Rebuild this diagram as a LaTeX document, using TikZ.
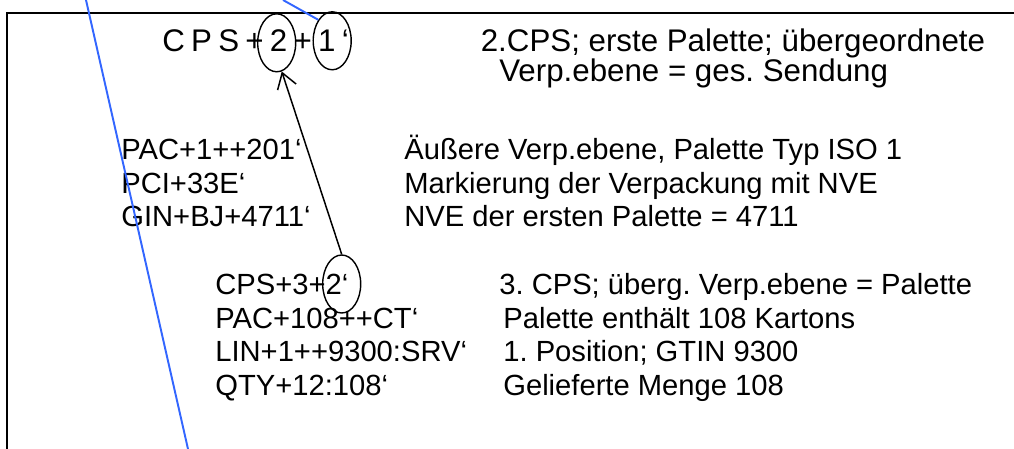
\documentclass[tikz,border=0pt]{standalone}
\usepackage{fontspec}
\setmainfont{Liberation Sans}
\usetikzlibrary{calc,shapes.geometric,arrows.meta}
\definecolor{guideblue}{RGB}{51,102,255}
\frenchspacing

\begin{document}
\begin{tikzpicture}[
		bigtext/.style={anchor=base west, inner sep=0pt, font=\fontsize{17.8}{20}\selectfont},
		seg/.style={anchor=base west, inner sep=0pt, font=\fontsize{16.6}{19}\selectfont},
		ring/.style={draw, ellipse, line width=0.8pt, inner sep=0pt, minimum width=0.76cm, minimum height=1.16cm},
		guide/.style={color=guideblue, line width=1.1pt}
	]
		\useasboundingbox (0,0) rectangle (20.28,8.98);

		% frame, open at the bottom and on the right
		\draw[line width=1.2pt] (0.134,0) -- (0.134,8.726) -- (20.28,8.726);

		% first CPS segment
		\coordinate (T) at (3.24,7.94);
		\node[bigtext] (cps) at (T) {\addfontfeature{LetterSpace=20}CPS+2+1‘};
		\node[bigtext] (topA) at (9.61,7.94) {2.CPS; erste Palette; übergeordnete};
		\node[bigtext] (topB) at (9.98,7.35) {Verp.ebene = ges. Sendung};

		% outer packing level
		\coordinate (P) at (2.42,5.78);
		\coordinate (Q) at (8.08,5.78);
		\node[seg] (pac) at (P) {PAC+1++201‘};
		\node[seg] (pci) at ($(P)+(0,-0.67)$) {PCI+33E‘};
		\node[seg] (gin) at ($(P)+(0,-1.34)$) {GIN+BJ+4711‘};
		\node[seg] (pacText) at (Q) {Äußere Verp.ebene, Palette Typ ISO 1};
		\node[seg] (pciText) at ($(Q)+(0,-0.67)$) {Markierung der Verpackung mit NVE};
		\node[seg] (ginText) at ($(Q)+(0,-1.34)$) {NVE der ersten Palette = 4711};

		% second CPS segment
		\coordinate (R) at (4.30,3.08);
		\coordinate (S) at (10.06,3.08);
		\node[seg] (cpsB) at (R) {CPS+3+2‘};
		\node[seg] (pacB) at ($(R)+(0,-0.67)$) {PAC+108++CT‘};
		\node[seg] (lin) at ($(R)+(0,-1.34)$) {LIN+1++9300:SRV‘};
		\node[seg] (qty) at ($(R)+(0,-2.01)$) {QTY+12:108‘};
		\node[seg] (cpsBText) at ($(S)+(-0.08,0)$) {3. CPS; überg. Verp.ebene = Palette};
		\node[seg] (pacBText) at ($(S)+(0,-0.67)$) {Palette enthält 108 Kartons};
		\node[seg] (linText) at ($(S)+(0,-1.34)$) {1. Position; GTIN 9300};
		\node[seg] (qtyText) at ($(S)+(0,-2.01)$) {Gelieferte Menge 108};

		% rings and the link between them
		\node[ring] (twoA) at (5.534,8.124) {};
		\node[ring] (oneA) at (6.644,8.164) {};
		\node[ring] (twoB) at (6.834,3.30) {};
		\draw[-{Straight Barb[length=0.3cm,width=0.39cm]}, line width=0.85pt] (twoB.north) -- (twoA.-80);

		% blue strokes
		\coordinate (blueA) at (1.72,8.98);
		\coordinate (blueB) at (3.76,0);
		\coordinate (blueC) at (5.66,8.98);
		\draw[guide] (blueA) -- (blueB);
		\draw[guide] (blueC) -- (oneA.north west);

	\end{tikzpicture}
\end{document}
